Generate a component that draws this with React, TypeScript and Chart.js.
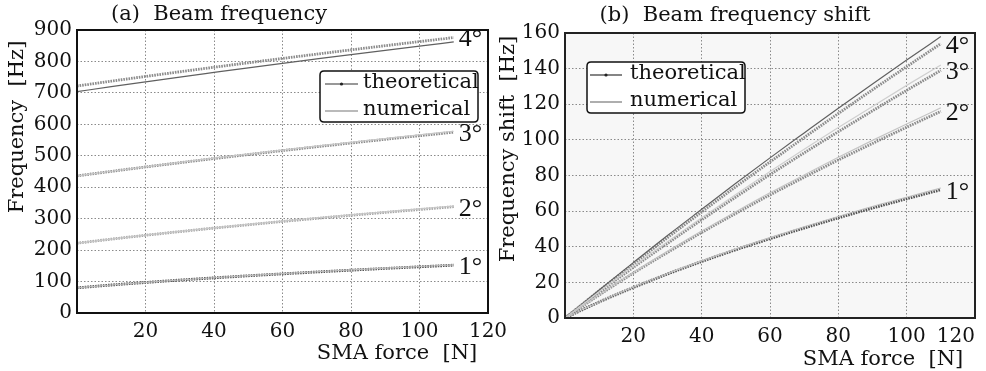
import React, { useEffect, useRef } from "react";
import { Chart, registerables } from "chart.js";
Chart.register(...registerables);

// ---------- data ----------
const forceN = [0, 10, 20, 30, 40, 50, 60, 70, 80, 90, 100, 110];
const modeLabels = ["1°", "2°", "3°", "4°"];
const seriesNames = ["theoretical", "numerical"];

// (a) beam frequency [Hz]
const freqTheo1 = [80, 89.0, 97.1, 104.7, 111.7, 118.3, 124.5, 130.5, 136.2, 141.7, 146.9, 152];
const freqTheo2 = [222, 234.9, 247.2, 258.8, 270.0, 280.7, 291.1, 301.0, 310.7, 320.0, 329.1, 338];
const freqTheo3 = [436, 450.4, 464.4, 477.9, 491.1, 503.9, 516.5, 528.7, 540.6, 552.3, 563.8, 575];
const freqTheo4 = [722, 737.3, 752.3, 767.1, 781.5, 795.7, 809.6, 823.3, 836.8, 850.1, 863.1, 876];
const freqNum1 = [80, 89.1, 97.3, 105.0, 112.1, 118.8, 125.1, 131.2, 137.0, 142.6, 147.8, 153];
const freqNum2 = [222, 235.1, 247.6, 259.4, 270.8, 281.7, 292.3, 302.3, 312.2, 321.7, 330.9, 340];
const freqNum3 = [436, 450.7, 465.0, 478.8, 492.3, 505.4, 518.2, 530.7, 542.9, 554.8, 566.6, 578];
const freqNum4 = [704, 719.7, 735.1, 750.3, 765.0, 779.6, 793.9, 807.9, 821.8, 835.4, 848.8, 862];

// (b) beam frequency shift [Hz]
const shiftTheo1 = [0, 9.0, 17.1, 24.7, 31.7, 38.3, 44.5, 50.5, 56.2, 61.7, 66.9, 72];
const shiftTheo2 = [0, 12.9, 25.2, 36.8, 48.0, 58.7, 69.1, 79.0, 88.7, 98.0, 107.1, 116];
const shiftTheo3 = [0, 14.4, 28.4, 41.9, 55.1, 67.9, 80.5, 92.7, 104.6, 116.3, 127.8, 139];
const shiftTheo4 = [0, 15.3, 30.3, 45.1, 59.5, 73.7, 87.6, 101.3, 114.8, 128.1, 141.1, 154];
const shiftNum1 = [0, 9.1, 17.3, 25.0, 32.1, 38.8, 45.1, 51.2, 57.0, 62.6, 67.8, 73];
const shiftNum2 = [0, 13.1, 25.6, 37.4, 48.8, 59.7, 70.3, 80.3, 90.2, 99.7, 108.9, 118];
const shiftNum3 = [0, 14.7, 29.0, 42.8, 56.3, 69.4, 82.2, 94.7, 106.9, 118.8, 130.6, 142];
const shiftNum4 = [0, 15.7, 31.1, 46.3, 61.0, 75.6, 89.9, 103.9, 117.8, 131.4, 144.8, 158];

const xTicksMax = 120;
const xTickStep = 20;

// ---------- styling ----------
const FONT = "'DejaVu Serif', serif";
const LABEL_FONT = "'Liberation Serif', serif";

type Panel = {
  left: number;
  width: number;
  title: string;
  yTitle: string;
  xTitle: string;
  yMax: number;
  yStep: number;
  theo: number[][];
  num: number[][];
  theoColors: string[];
  numColors: string[];
  area: { left: number; right: number; top: number; bottom: number };
  titlePos: [number, number];
  yTitlePos: [number, number];
  xTitlePos: [number, number];
  legendBox: [number, number, number, number];
  legendRows: [number, number];
  legendSampleX: [number, number];
  legendTextX: number;
  bg: string;
  frame: string;
  xAlign: string;
};

const panels: Panel[] = [
  {
    left: 0,
    width: 510,
    title: "(a)  Beam frequency",
    yTitle: "Frequency  [Hz]",
    xTitle: "SMA force  [N]",
    yMax: 900,
    yStep: 100,
    theo: [freqTheo1, freqTheo2, freqTheo3, freqTheo4],
    num: [freqNum1, freqNum2, freqNum3, freqNum4],
    theoColors: ["#555555", "#a5a5a5", "#8c8c8c", "#8c8c8c"],
    numColors: ["#bdbdbd", "#c8c8c8", "#c8c8c8", "#606060"],
    area: { left: 77, right: 488, top: 30, bottom: 313 },
    titlePos: [219, 15],
    yTitlePos: [18, 127],
    xTitlePos: [397, 354],
    legendBox: [320, 71, 478, 122],
    legendRows: [84, 111],
    legendSampleX: [325, 358],
    legendTextX: 363,
    bg: "#ffffff",
    frame: "#111111",
    xAlign: "center",
  },
  {
    left: 490,
    width: 496,
    title: "(b)  Beam frequency shift",
    yTitle: "Frequency shift  [Hz]",
    xTitle: "SMA force  [N]",
    yMax: 160,
    yStep: 20,
    theo: [shiftTheo1, shiftTheo2, shiftTheo3, shiftTheo4],
    num: [shiftNum1, shiftNum2, shiftNum3, shiftNum4],
    theoColors: ["#555555", "#8c8c8c", "#8c8c8c", "#8c8c8c"],
    numColors: ["#bdbdbd", "#c4c4c4", "#cfcfcf", "#606060"],
    area: { left: 75, right: 485, top: 33, bottom: 318 },
    titlePos: [245, 16],
    yTitlePos: [19, 149],
    xTitlePos: [393, 360],
    legendBox: [97, 62, 255, 113],
    legendRows: [75, 102],
    legendSampleX: [100, 132],
    legendTextX: 140,
    bg: "#f7f7f7",
    frame: "#222222",
    xAlign: "inner",
  },
];

function roundRect(ctx: CanvasRenderingContext2D, x0: number, y0: number, x1: number, y1: number, r: number) {
  ctx.beginPath();
  ctx.moveTo(x0 + r, y0);
  ctx.lineTo(x1 - r, y0);
  ctx.quadraticCurveTo(x1, y0, x1, y0 + r);
  ctx.lineTo(x1, y1 - r);
  ctx.quadraticCurveTo(x1, y1, x1 - r, y1);
  ctx.lineTo(x0 + r, y1);
  ctx.quadraticCurveTo(x0, y1, x0, y1 - r);
  ctx.lineTo(x0, y0 + r);
  ctx.quadraticCurveTo(x0, y0, x0 + r, y0);
  ctx.closePath();
}

function buildConfig(p: Panel): any {
  const datasets: any[] = [];
  for (let i = 0; i < 4; i++) {
    datasets.push({
      label: `${seriesNames[1]} ${modeLabels[i]}`,
      data: forceN.map((x, j) => ({ x, y: p.num[i][j] })),
      borderColor: p.numColors[i],
      borderWidth: 1.2,
      pointRadius: 0,
      cubicInterpolationMode: "monotone",
    });
  }
  for (let i = 0; i < 4; i++) {
    datasets.push({
      label: `${seriesNames[0]} ${modeLabels[i]}`,
      data: forceN.map((x, j) => ({ x, y: p.theo[i][j] })),
      borderColor: p.theoColors[i],
      borderWidth: 2.8,
      borderDash: [1.6, 1],
      pointRadius: 0,
      cubicInterpolationMode: "monotone",
    });
  }

  const decor = {
    id: "decor",
    beforeDraw(chart: any) {
      const { ctx, chartArea: a } = chart;
      ctx.save();
      ctx.fillStyle = p.bg;
      ctx.fillRect(a.left, a.top, a.right - a.left, a.bottom - a.top);
      ctx.restore();
    },
    afterDraw(chart: any) {
      const { ctx, chartArea: a, scales } = chart;
      ctx.save();
      // frame
      ctx.strokeStyle = p.frame;
      ctx.lineWidth = 2;
      ctx.strokeRect(a.left, a.top, a.right - a.left, a.bottom - a.top);

      // mode labels at line ends
      ctx.fillStyle = "#111";
      ctx.font = `26px ${LABEL_FONT}`;
      ctx.textAlign = "left";
      ctx.textBaseline = "middle";
      for (let i = 0; i < 4; i++) {
        const last = forceN.length - 1;
        const px = scales.x.getPixelForValue(forceN[last]) + 5;
        const py = scales.y.getPixelForValue(p.theo[i][last]) + 2;
        ctx.fillText(modeLabels[i], px, py);
      }

      // legend
      const [bx0, by0, bx1, by1] = p.legendBox;
      roundRect(ctx, bx0, by0, bx1, by1, 4);
      ctx.fillStyle = "#ffffff";
      ctx.fill();
      ctx.strokeStyle = "#111";
      ctx.lineWidth = 1.5;
      ctx.stroke();
      const [sx0, sx1] = p.legendSampleX;
      ctx.lineWidth = 1.2;
      ctx.strokeStyle = "#333";
      ctx.beginPath();
      ctx.moveTo(sx0, p.legendRows[0]);
      ctx.lineTo(sx1, p.legendRows[0]);
      ctx.stroke();
      ctx.fillStyle = "#222";
      ctx.beginPath();
      ctx.arc((sx0 + sx1) / 2, p.legendRows[0], 1.6, 0, Math.PI * 2);
      ctx.fill();
      ctx.strokeStyle = "#777";
      ctx.beginPath();
      ctx.moveTo(sx0, p.legendRows[1]);
      ctx.lineTo(sx1, p.legendRows[1]);
      ctx.stroke();
      ctx.fillStyle = "#111";
      ctx.font = `21px ${FONT}`;
      ctx.textAlign = "left";
      ctx.textBaseline = "middle";
      ctx.fillText(seriesNames[0], p.legendTextX, p.legendRows[0] - 1);
      ctx.fillText(seriesNames[1], p.legendTextX, p.legendRows[1] - 1);

      // titles
      ctx.textAlign = "center";
      ctx.textBaseline = "middle";
      ctx.font = `21px ${FONT}`;
      ctx.fillText(p.title, p.titlePos[0], p.titlePos[1]);
      ctx.fillText(p.xTitle, p.xTitlePos[0], p.xTitlePos[1]);
      ctx.save();
      ctx.translate(p.yTitlePos[0], p.yTitlePos[1]);
      ctx.rotate(-Math.PI / 2);
      ctx.fillText(p.yTitle, 0, 0);
      ctx.restore();
      ctx.restore();
    },
  };

  const gridCommon = {
    color: "#8a8a8a",
    lineWidth: 1,
    drawTicks: false,
  };

  return {
    type: "line",
    data: { datasets },
    options: {
      animation: false,
      responsive: false,
      devicePixelRatio: 1,
      layout: {
        padding: {
          top: p.area.top,
          right: p.width - p.area.right,
          bottom: 0,
          left: 0,
        },
      },
      plugins: {
        legend: { display: false },
        tooltip: { enabled: false },
        title: { display: false },
      },
      scales: {
        x: {
          type: "linear",
          min: 0,
          max: xTicksMax,
          grid: gridCommon,
          border: { display: false, dash: [1.5, 2] },
          ticks: {
            stepSize: xTickStep,
            padding: 7,
            color: "#111",
            font: { family: FONT, size: 20 },
            maxRotation: 0,
            autoSkip: false,
            align: p.xAlign,
            callback: (v: number) => (v === 0 ? "" : String(v)),
          },
          afterFit: (s: any) => {
            s.height = 371 - p.area.bottom;
            s.paddingLeft = 0;
            s.paddingRight = 0;
          },
        },
        y: {
          type: "linear",
          min: 0,
          max: p.yMax,
          grid: gridCommon,
          border: { display: false, dash: [1.5, 2] },
          ticks: {
            stepSize: p.yStep,
            padding: 5,
            color: "#111",
            font: { family: FONT, size: 20 },
            autoSkip: false,
          },
          afterFit: (s: any) => {
            s.width = p.area.left;
            s.paddingTop = 0;
            s.paddingBottom = 0;
          },
        },
      },
    },
    plugins: [decor],
  };
}

function PanelChart({ p }: { p: Panel }) {
  const ref = useRef<HTMLCanvasElement | null>(null);
  useEffect(() => {
    const chart = new Chart(ref.current as HTMLCanvasElement, buildConfig(p));
    return () => chart.destroy();
  }, []);
  return (
    <canvas
      ref={ref}
      width={p.width}
      height={371}
      style={{ position: "absolute", left: p.left, top: 0, width: p.width, height: 371 }}
    />
  );
}

export default function App() {
  return (
    <div style={{ position: "absolute", left: 0, top: 0, width: 986, height: 371, background: "#fff", overflow: "hidden" }}>
      <PanelChart p={panels[0]} />
      <PanelChart p={panels[1]} />
    </div>
  );
}
